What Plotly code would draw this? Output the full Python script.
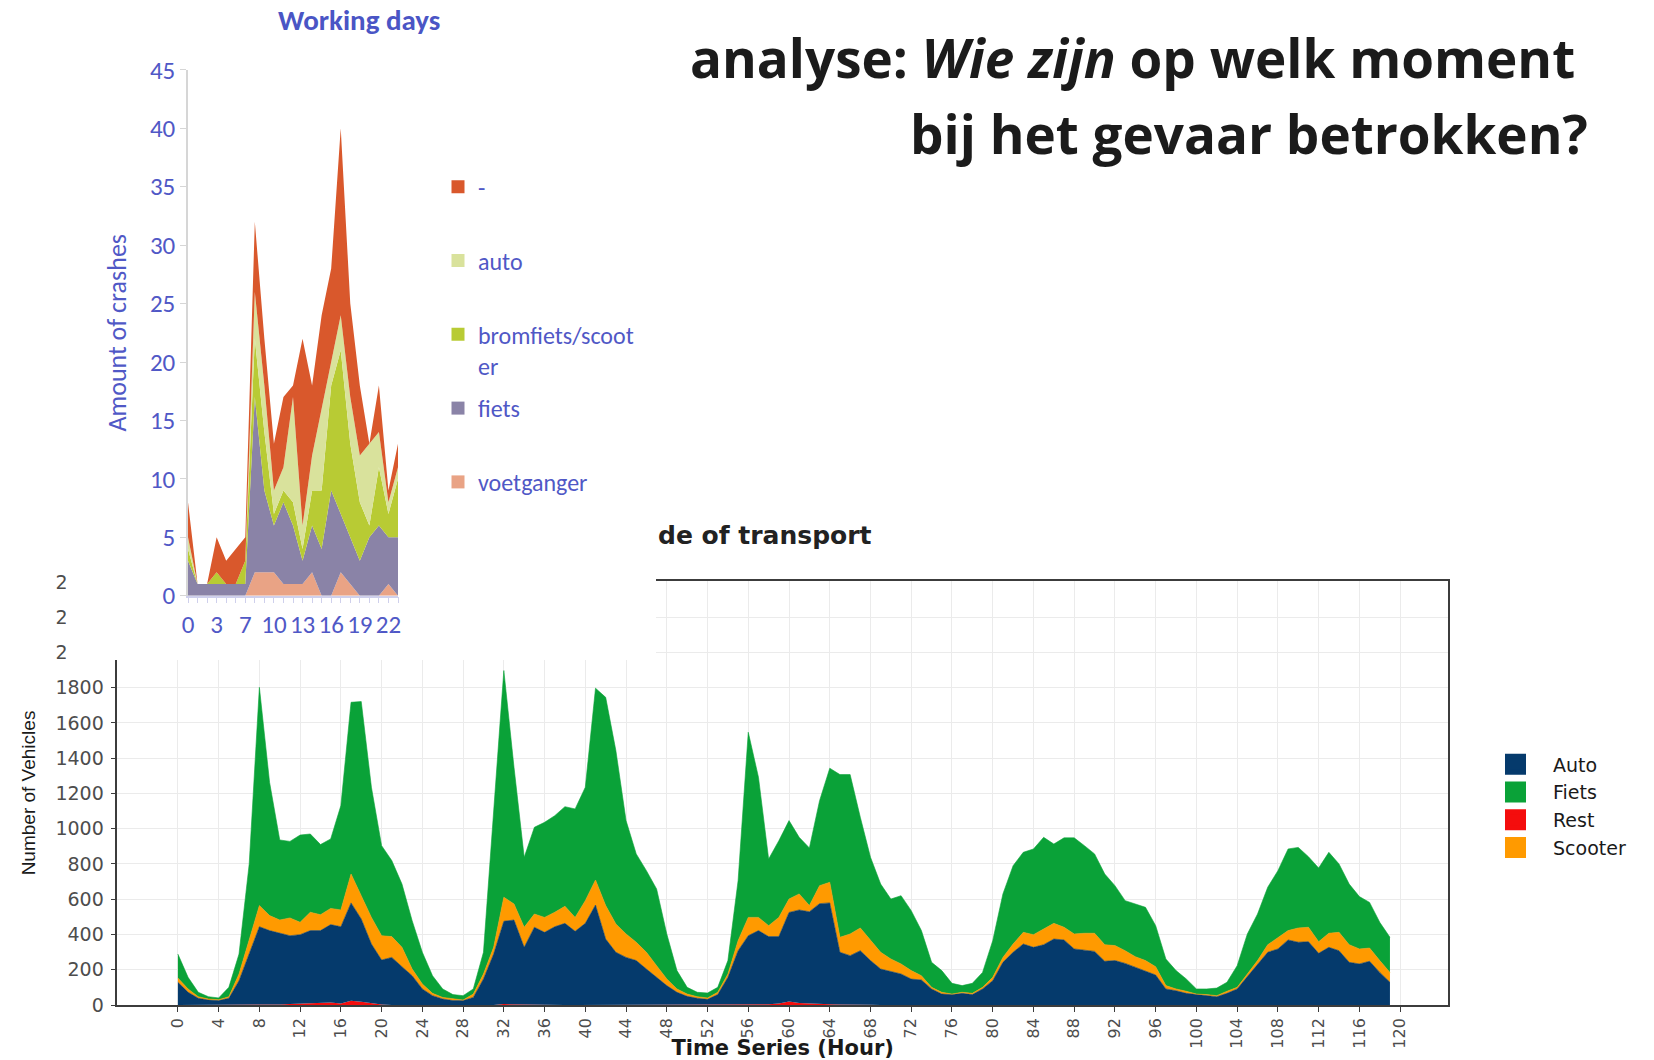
import plotly.graph_objects as go

W, H = 1654, 1060


def fx(p):
    return p / W


def fy(p):
    return 1 - p / H


# ---------------- Top chart: crashes on working days ----------------
HOURS = ["0", "1", "2", "3", "4", "5", "7", "8", "9", "10", "11", "12",
         "13", "14", "15", "16", "17", "18", "19", "20", "21", "22", "23"]
VOETGANGER = [0, 0, 0, 0, 0, 0, 0, 2, 2, 2, 1, 1, 1, 2, 0, 0, 2, 1, 0, 0, 0, 1, 0]
FIETS_CR = [3, 1, 1, 1, 1, 1, 1, 15, 7, 4, 7, 5, 2, 4, 4, 9, 5, 4, 3, 5, 6, 4, 5]
BROMFIETS = [1, 0, 0, 1, 0, 0, 2, 5, 5, 1, 1, 2, 1, 3, 5, 9, 14, 8, 5, 1, 5, 2, 5]
AUTO_CR = [1, 0, 0, 0, 0, 0, 0, 4, 4, 2, 2, 9, 2, 3, 7, 2, 3, 4, 4, 7, 3, 1, 1]
ONBEKEND = [3, 0, 0, 3, 2, 3, 2, 6, 4, 4, 6, 1, 16, 6, 8, 8, 16, 8, 6, 0, 4, 1, 2]
TOP_TICK_LABELS = ["0", "3", "7", "10", "13", "16", "19", "22"]

# ---------------- Bottom chart: vehicles per hour ----------------
AUTO = [129, 72, 38, 28, 25, 38, 138, 289, 440, 418, 404, 388, 391, 412, 412, 442, 435, 555, 470, 336,
        252, 270, 217, 166, 91, 53, 34, 25, 25, 43,
        148, 289, 470, 478, 327, 441, 412, 444, 463, 418, 463, 567, 374, 299, 270, 252, 204, 157, 110, 72,
        49, 38, 32, 59, 157, 308, 393, 422, 384, 379,
        505, 527, 521, 570, 575, 296, 276, 303, 250, 204, 191, 176, 147, 142, 91, 62, 59, 66, 59, 91,
        138, 242, 299, 346, 327, 342, 374, 369, 318, 312,
        304, 248, 252, 236, 214, 195, 170, 91, 81, 66, 59, 53, 47, 66, 91, 161, 233, 299, 318, 369,
        356, 359, 293, 327, 308, 242, 233, 248, 185, 129]
SCOOTER = [24, 19, 9, 6, 5, 9, 38, 76, 120, 85, 75, 101, 70, 104, 90, 92, 95, 164, 132, 151,
           138, 118, 110, 38, 28, 13, 9, 9, 3, 19,
           28, 38, 136, 91, 114, 75, 85, 82, 97, 79, 129, 142, 190, 161, 133, 104, 95, 66, 38, 19,
           13, 9, 8, 13, 19, 57, 104, 75, 62, 109,
           76, 91, 35, 102, 117, 85, 123, 129, 113, 95, 70, 57, 48, 24, 9, 10, 3, 6, 7, 9,
           19, 28, 47, 66, 72, 89, 89, 72, 85, 95,
           103, 94, 85, 72, 60, 57, 47, 19, 10, 12, 3, 6, 6, 12, 9, 15, 19, 43, 66, 53,
           81, 82, 66, 80, 104, 100, 85, 75, 67, 56]
FIETS = [136, 66, 25, 13, 10, 53, 113, 435, 1238, 756, 454, 434, 495, 444, 398, 394, 592, 974, 1101, 738,
         511, 431, 359, 274, 180, 100, 48, 25, 25, 29,
         123, 794, 1286, 775, 397, 492, 539, 548, 565, 615, 643, 1088, 1181, 983, 643, 501, 463, 435, 255, 104,
         38, 25, 28, 28, 76, 340, 1050, 795, 378, 435,
         445, 321, 327, 482, 647, 923, 904, 628, 473, 387, 340, 387, 340, 256, 142, 123, 61, 38, 57, 85,
         208, 360, 444, 454, 486, 520, 450, 507, 545, 497,
         450, 401, 340, 284, 299, 302, 233, 151, 104, 70, 29, 32, 43, 51, 123, 227, 264, 326, 378, 463,
         457, 400, 418, 459, 388, 344, 297, 259, 217, 199]
REST = [0, 0, 0, 0, 0, 0, 0, 0, 4, 4, 3, 5, 8, 10, 10, 14, 9, 24, 18, 10,
        3, 0, 0, 0, 0, 0, 0, 0, 0, 0,
        0, 0, 5, 4, 0, 0, 0, 0, 0, 0, 0, 0, 0, 0, 0, 0, 0, 0, 0, 0,
        0, 0, 0, 0, 0, 0, 0, 0, 4, 9,
        20, 12, 8, 5, 4, 3, 4, 5, 2, 0, 0, 0, 0, 0, 0, 0, 0, 0, 0, 0,
        0, 0, 0, 0, 0, 0, 0, 0, 0, 0,
        0, 0, 0, 0, 0, 0, 0, 0, 0, 0, 0, 0, 0, 0, 0, 0, 0, 0, 0, 0,
        0, 0, 0, 0, 0, 0, 0, 0, 0, 0]
HOUR_SERIES = list(range(len(AUTO)))
X_TICKS = list(range(0, 121, 4))
Y_TICKS = list(range(0, 2401, 200))

TOP_FONT = "Carlito, Lato, sans-serif"
BLUE = "#5058c6"
GG_FONT = "DejaVu Sans, Liberation Sans, Arial, sans-serif"

fig = go.Figure()

# ---- bottom stacked area (Rest at bottom, then Auto, Scooter, Fiets) ----
bottom_series = [("Rest", REST, "#f40d0d", 3, 0), ("Auto", AUTO, "#053a6c", 1, 0.6),
                 ("Scooter", SCOOTER, "#ff9a00", 4, 0.6), ("Fiets", FIETS, "#0aa238", 2, 0.6)]
for name, vals, col, rank, lw in bottom_series:
    fig.add_trace(go.Scatter(x=HOUR_SERIES, y=vals, name=name, stackgroup="veh", mode="lines",
                             line=dict(width=lw, color=col), fillcolor=col, showlegend=False,
                             xaxis="x", yaxis="y"))
for name, vals, col, rank, lw in bottom_series:
    fig.add_trace(go.Scatter(x=[None], y=[None], name=name, mode="markers",
                             marker=dict(symbol="square", size=16, color=col, line=dict(width=5, color=col)),
                             legend="legend2", legendgroup="b" + name, legendrank=rank,
                             xaxis="x", yaxis="y", hoverinfo="skip"))

# ---- cover panel (white background of the pasted chart) ----
fig.add_trace(go.Scatter(x=[None], y=[None], xaxis="x2", yaxis="y2", showlegend=False, hoverinfo="skip"))

# ---- top stacked area ----
idx = list(range(len(HOURS)))
top_series = [("voetganger", VOETGANGER, "#e9a385", "legend3", 2),
              ("fiets", FIETS_CR, "#8a83a7", "legend3", 1),
              ("bromfiets/scoot<br>er", BROMFIETS, "#b8cb34", "legend", 3),
              ("auto", AUTO_CR, "#d9e29c", "legend", 2),
              ("-", ONBEKEND, "#d9582c", "legend", 1)]
for name, vals, col, lg, rank in top_series:
    fig.add_trace(go.Scatter(x=idx, y=vals, name=name, stackgroup="crash", mode="lines",
                             line=dict(width=0), fillcolor=col, showlegend=False,
                             customdata=HOURS, xaxis="x3", yaxis="y3"))
for name, vals, col, lg, rank in top_series:
    fig.add_trace(go.Scatter(x=[None], y=[None], name=name, mode="markers",
                             marker=dict(symbol="square", size=13, color=col),
                             legend=lg, legendgroup="t" + name, legendrank=rank,
                             xaxis="x3", yaxis="y3", hoverinfo="skip"))

axis_dark = "#3c3c3c"
fig.update_layout(
    width=W, height=H, margin=dict(l=0, r=0, t=0, b=0, autoexpand=False),
    paper_bgcolor="white", plot_bgcolor="white",
    xaxis=dict(domain=[fx(117.3), fx(1448)], range=[-5.95, 124.7], tickmode="array", tickvals=X_TICKS,
               anchor="y", automargin=False,
               showgrid=True, gridcolor="#ebebeb", gridwidth=1.3, zeroline=False,
               showline=True, linecolor=axis_dark, linewidth=1.5, mirror=True,
               ticks="outside", ticklen=5, tickcolor=axis_dark, tickangle=-90,
               tickfont=dict(family=GG_FONT, size=16, color="#4d4d4d"),
               title=dict(text="Time Series (Hour)", standoff=2,
                          font=dict(family=GG_FONT, size=21, color="#1a1a1a", weight="bold"))),
    yaxis=dict(domain=[fy(1005), fy(581)], range=[0, 2405], tickmode="array", tickvals=Y_TICKS,
               anchor="x", automargin=False,
               showgrid=True, gridcolor="#ebebeb", gridwidth=1.3, zeroline=False,
               showline=True, linecolor=axis_dark, linewidth=1.5, mirror=True,
               ticks="outside", ticklen=5, tickcolor=axis_dark, ticklabelstandoff=3,
               tickfont=dict(family=GG_FONT, size=19, color="#4d4d4d"),
               title=dict(text="Number of Vehicles", standoff=15,
                          font=dict(family="Liberation Sans Narrow, Liberation Sans, Arial", size=19,
                                    color="#1a1a1a"))),
    xaxis2=dict(domain=[fx(66.5), fx(656)], range=[0, 1], visible=False, anchor="y2"),
    yaxis2=dict(domain=[fy(660), 1.0], range=[0, 1], visible=False, anchor="x2"),
    xaxis3=dict(domain=[fx(188), fx(398)], range=[0, len(HOURS) - 1], tickmode="array",
                anchor="y3", automargin=False,
                tickvals=[HOURS.index(t) for t in TOP_TICK_LABELS], ticktext=TOP_TICK_LABELS,
                showgrid=False, zeroline=False, showline=True, linecolor="#cfd0ec", linewidth=1.5,
                ticks="outside", ticklen=6, tickcolor="#cfd0ec",
                minor=dict(ticks="outside", dtick=1, ticklen=6, tickcolor="#cfd0ec", showgrid=False),
                tickfont=dict(family=TOP_FONT, size=25, color=BLUE)),
    yaxis3=dict(domain=[fy(595.7), fy(69.9)], range=[0, 45], dtick=5, anchor="x3", automargin=False,
                showgrid=False, zeroline=False, showline=True, linecolor="#d6d6d6", linewidth=1.5,
                ticks="outside", ticklen=6, tickcolor="#d6d6d6",
                tickfont=dict(family=TOP_FONT, size=25, color=BLUE),
                title=dict(text="Amount of crashes", standoff=16,
                           font=dict(family=TOP_FONT, size=26, color=BLUE))),
    legend=dict(x=fx(438), y=fy(164.6), xanchor="left", yanchor="top", traceorder="grouped",
                tracegroupgap=39.6, valign="top", bgcolor="rgba(0,0,0,0)",
                font=dict(family=TOP_FONT, size=24, color=BLUE)),
    legend3=dict(x=fx(438), y=fy(386), xanchor="left", yanchor="top", traceorder="grouped",
                 tracegroupgap=39.6, valign="top", bgcolor="rgba(0,0,0,0)",
                 font=dict(family=TOP_FONT, size=24, color=BLUE)),
    legend2=dict(x=fx(1478), y=fy(745.5), xanchor="left", yanchor="top", traceorder="grouped",
                 tracegroupgap=0, itemwidth=65, bgcolor="rgba(0,0,0,0)",
                 font=dict(family=GG_FONT, size=19, color="#1a1a1a")),
    showlegend=True,
    annotations=[
        dict(text="<b>analyse: <i>Wie zijn</i> op welk moment</b>", x=fx(1577), y=fy(58),
             xref="paper", yref="paper", xanchor="right", yanchor="middle", showarrow=False,
             font=dict(family="Open Sans, sans-serif", size=53, color="#1b1b1b")),
        dict(text="<b>bij het gevaar betrokken?</b>", x=fx(1590), y=fy(134),
             xref="paper", yref="paper", xanchor="right", yanchor="middle", showarrow=False,
             font=dict(family="Open Sans, sans-serif", size=53, color="#1b1b1b")),
        dict(text="<b>Working days</b>", x=fx(359), y=fy(20), xref="paper", yref="paper",
             xanchor="center", yanchor="middle", showarrow=False,
             font=dict(family=TOP_FONT, size=29, color="#4a55c5")),
        dict(text="<b>de of transport</b>", x=fx(656), y=fy(535), xref="paper", yref="paper",
             xanchor="left", yanchor="middle", showarrow=False,
             font=dict(family=GG_FONT, size=25, color="#222222")),
    ],
)

fig.write_html("out.html", config={"displayModeBar": False},
               post_script="document.body.style.margin='0';document.body.style.overflow='hidden';")
